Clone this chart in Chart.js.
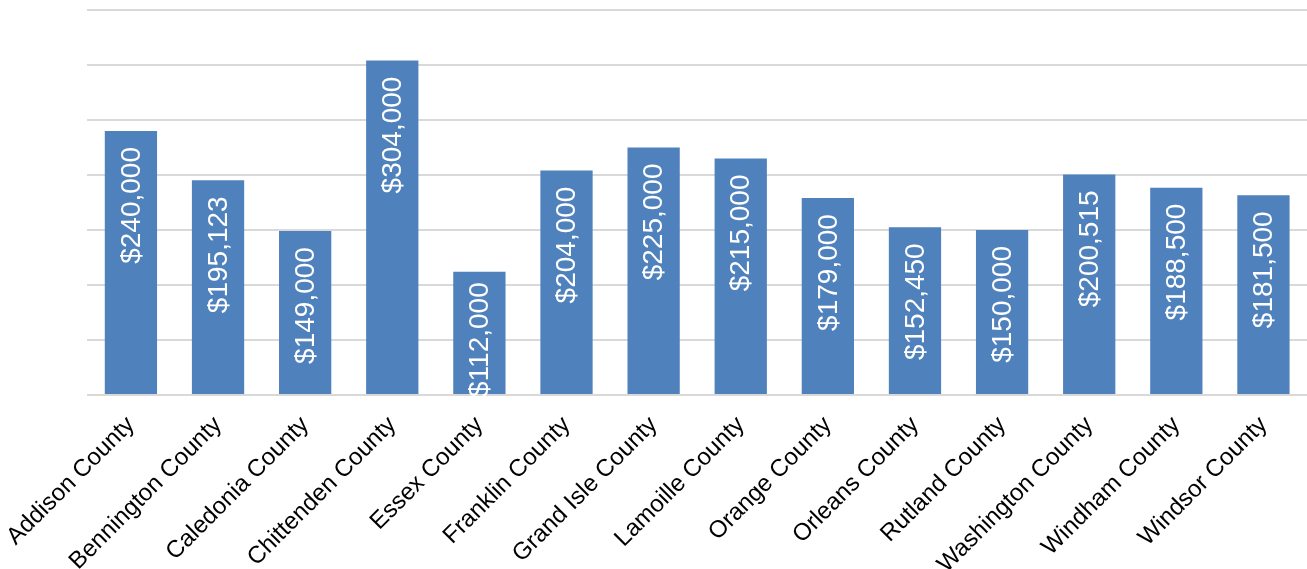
<!DOCTYPE html>
<html>
<head>
<meta charset="utf-8">
<script src="https://cdn.jsdelivr.net/npm/chart.js@4.4.1/dist/chart.umd.min.js"></script>
<style>
  html, body { margin: 0; padding: 0; background: #ffffff; }
  #wrap { width: 1307px; height: 569px; position: relative; }
</style>
</head>
<body>
<div id="wrap"><canvas id="chart"></canvas></div>
<script>
// Median home price by Vermont county
const counties = [
  'Addison County', 'Bennington County', 'Caledonia County', 'Chittenden County',
  'Essex County', 'Franklin County', 'Grand Isle County', 'Lamoille County',
  'Orange County', 'Orleans County', 'Rutland County', 'Washington County',
  'Windham County', 'Windsor County'
];
const medianPrice = [
  240000, 195123, 149000, 304000,
  112000, 204000, 225000, 215000,
  179000, 152450, 150000, 200515,
  188500, 181500
];
const yMin = 0;
const yMax = 350000;
const yStep = 50000;

const FONT = '"Liberation Sans", Arial, Helvetica, sans-serif';
const money = v => '$' + v.toLocaleString('en-US');

// White value labels written vertically inside the top of each bar
const insideEndLabels = {
  id: 'insideEndLabels',
  afterDatasetsDraw(chart) {
    const ctx = chart.ctx;
    const meta = chart.getDatasetMeta(0);
    ctx.save();
    ctx.font = '28px ' + FONT;
    ctx.fillStyle = '#ffffff';
    ctx.textAlign = 'right';
    ctx.textBaseline = 'middle';
    meta.data.forEach((bar, i) => {
      const text = money(chart.data.datasets[0].data[i]);
      const w = ctx.measureText(text).width;
      let endY = bar.y + 16;
      const limit = bar.base + 3 - w;
      if (endY > limit) endY = limit;
      ctx.save();
      ctx.translate(bar.x + 1, endY);
      ctx.rotate(-Math.PI / 2);
      ctx.fillText(text, 0, 0);
      ctx.restore();
    });
    ctx.restore();
  }
};

new Chart(document.getElementById('chart'), {
  type: 'bar',
  data: {
    labels: counties,
    datasets: [{
      data: medianPrice,
      backgroundColor: '#4f81bd',
      borderWidth: 0,
      barPercentage: 0.6,
      categoryPercentage: 1.0
    }]
  },
  options: {
    responsive: true,
    maintainAspectRatio: false,
    animation: false,
    layout: { padding: { top: 10, right: 0, left: 0, bottom: 0 } },
    plugins: {
      legend: { display: false },
      tooltip: { enabled: false }
    },
    scales: {
      x: {
        grid: { display: false },
        border: { display: false },
        ticks: {
          autoSkip: false,
          minRotation: 45,
          maxRotation: 45,
          color: '#000000',
          padding: 8,
          font: { family: FONT, size: 24 }
        },
        afterFit(scale) { scale.height = 174; }
      },
      y: {
        min: yMin,
        max: yMax,
        border: { display: false },
        grid: { color: '#d9d9d9', lineWidth: 2, drawTicks: false },
        ticks: { display: false, stepSize: yStep },
        afterFit(scale) { scale.width = 87; }
      }
    }
  },
  plugins: [insideEndLabels]
});
</script>
</body>
</html>
